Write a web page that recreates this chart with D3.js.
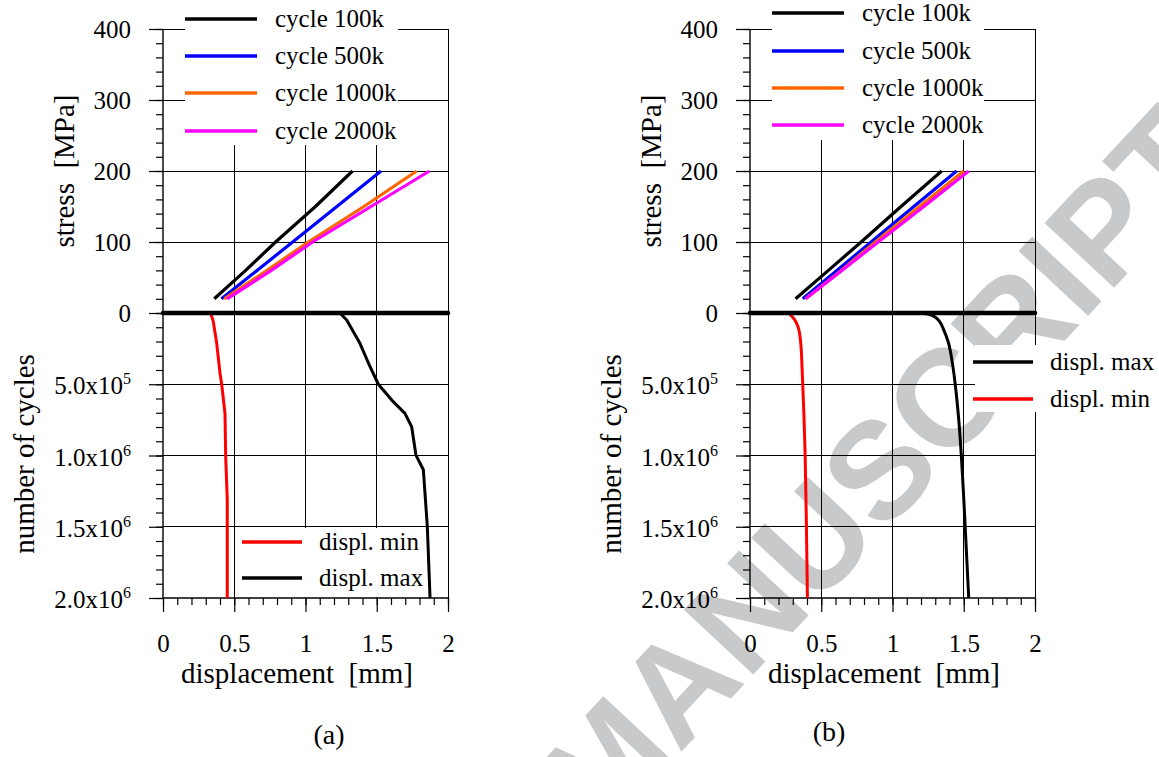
<!DOCTYPE html>
<html>
<head>
<meta charset="utf-8">
<script src="https://cdn.jsdelivr.net/npm/d3@7"></script>
<style>
  body { margin: 0; background: #fff; }
  svg { display: block; }
  svg text { font-family: 'Liberation Serif', 'Times New Roman', Tinos, 'Nimbus Roman', 'DejaVu Serif', serif; fill: #000; }
</style>
</head>
<body>
<svg id="chart" width="1159" height="757"></svg>
<script>
// ---------------- data ----------------
const dispTicks = [0, 0.5, 1, 1.5, 2];
const dispTickLabels = ["0", "0.5", "1", "1.5", "2"];
const stressTicks = [0, 100, 200, 300, 400];
const cycleTicks = [5e5, 1e6, 1.5e6, 2e6];
const cycleTickMant = ["5.0x10", "1.0x10", "1.5x10", "2.0x10"];
const cycleTickExp = ["5", "6", "6", "6"];

const seriesNames = ["cycle 100k", "cycle 500k", "cycle 1000k", "cycle 2000k"];
const stressPoints = [20, 60, 100, 150, 200];

// panel (a): stress-displacement loops
const a_disp100k  = [0.36, 0.58, 0.79, 1.07, 1.33];
const a_disp500k  = [0.41, 0.66, 0.91, 1.22, 1.53];
const a_disp1000k = [0.43, 0.73, 1.02, 1.41, 1.78];
const a_disp2000k = [0.45, 0.76, 1.05, 1.46, 1.87];
// panel (b)
const b_disp100k  = [0.32, 0.55, 0.78, 1.06, 1.345];
const b_disp500k  = [0.37, 0.61, 0.85, 1.15, 1.45];
const b_disp1000k = [0.39, 0.64, 0.88, 1.19, 1.50];
const b_disp2000k = [0.39, 0.645, 0.90, 1.22, 1.535];

// zero line
const zeroDisp = [0, 2];
const zeroVal = [0, 0];

// panel (a): displacement vs number of cycles
const a_cyclesMin = [0, 61e3, 213e3, 423e3, 500e3, 704e3, 1.01e6, 1.31e6, 2.0e6];
const a_displMin  = [0.335, 0.353, 0.377, 0.40, 0.412, 0.435, 0.44, 0.451, 0.451];
const a_cyclesMax = [0, 49e3, 213e3, 377e3, 500e3, 611e3, 704e3, 798e3, 997e3, 1.10e6, 1.50e6, 2.0e6];
const a_displMax  = [1.242, 1.289, 1.382, 1.453, 1.511, 1.605, 1.698, 1.745, 1.775, 1.827, 1.855, 1.874];
// panel (b)
const b_cyclesMin = [0, 20e3, 50e3, 100e3, 200e3, 400e3, 700e3, 1.0e6, 1.5e6, 2.0e6];
const b_displMin  = [0.27, 0.29, 0.315, 0.338, 0.355, 0.366, 0.378, 0.387, 0.396, 0.403];
const b_cyclesMax = [0, 10e3, 30e3, 60e3, 120e3, 200e3, 350e3, 500e3, 750e3, 1.0e6, 1.3e6, 1.6e6, 2.0e6];
const b_displMax  = [1.20, 1.26, 1.30, 1.33, 1.36, 1.39, 1.42, 1.44, 1.465, 1.483, 1.50, 1.515, 1.535];

const cycleColors = ["#000000", "#0000ff", "#ff6600", "#ff00ff"];

// ---------------- drawing ----------------
const SERIF = "'Liberation Serif', 'Times New Roman', Tinos, 'Nimbus Roman', 'DejaVu Serif', serif";
const svg = d3.select("#chart");

// watermark (behind chart)
svg.append("text")
  .attr("transform", "translate(878,468) rotate(-47)")
  .attr("text-anchor", "middle")
  .attr("dy", "0.36em")
  .attr("font-family", "'Liberation Sans', Arial, sans-serif")
  .style("font-family", "'Liberation Sans', Arial, sans-serif")
  .style("font-weight", "bold")
  .style("font-size", "138px")
  .style("fill", "#c8c9ca")
  .text("MANUSCRIPT");

function zip(xs, ys) { return xs.map((v, i) => [v, ys[i]]); }
function serif(sel, size) { return sel.attr("font-family", SERIF).style("font-family", SERIF).style("font-size", size + "px"); }

function drawPanel(p) {
  const g = svg.append("g");
  const L = p.left;
  const x = d3.scaleLinear().domain([0, 2]).range([L, L + 285]);
  const yS = d3.scaleLinear().domain([0, 400]).range([313, 29]);
  const yN = d3.scaleLinear().domain([0, 2e6]).range([313, 598]);

  // grid
  const grid = g.append("g").attr("stroke", "#000").attr("stroke-width", 1).attr("shape-rendering", "crispEdges");
  grid.selectAll("line.v").data([0.5, 1, 1.5]).join("line")
    .attr("x1", d => x(d)).attr("x2", d => x(d)).attr("y1", yS(400)).attr("y2", yN(2e6));
  grid.selectAll("line.hs").data([100, 200, 300, 400]).join("line")
    .attr("x1", x(0)).attr("x2", x(2)).attr("y1", d => yS(d)).attr("y2", d => yS(d));
  grid.selectAll("line.hn").data([5e5, 1e6, 1.5e6]).join("line").attr("class", "hn")
    .attr("x1", x(0)).attr("x2", x(2)).attr("y1", d => yN(d)).attr("y2", d => yN(d));
  grid.append("line").attr("x1", x(2)).attr("x2", x(2)).attr("y1", yS(400)).attr("y2", yN(2e6));

  // legend backgrounds
  g.append("rect").attr("x", p.topBox[0]).attr("y", p.topBox[1]).attr("width", p.topBox[2]).attr("height", p.topBox[3]).attr("fill", "#fff");
  g.append("rect").attr("x", p.botBox[0]).attr("y", p.botBox[1]).attr("width", p.botBox[2]).attr("height", p.botBox[3]).attr("fill", "#fff");

  // axes
  const axG = g.append("g").attr("transform", `translate(${L},0)`);
  const ySmaj = axG.append("g").call(d3.axisLeft(yS).tickValues(stressTicks).tickSize(14).tickPadding(18).tickFormat(d3.format("d")));
  const ySmin = axG.append("g").call(d3.axisLeft(yS).tickValues(d3.range(0, 401, 20)).tickSize(7).tickFormat(""));
  const yNmaj = axG.append("g").call(d3.axisLeft(yN).tickValues(cycleTicks).tickSize(14).tickFormat(""));
  const yNmin = axG.append("g").call(d3.axisLeft(yN).tickValues(d3.range(0, 2e6 + 1, 1e5)).tickSize(7).tickFormat(""));
  [ySmaj, ySmin, yNmaj, yNmin].forEach(a => { a.attr("font-family", SERIF); a.select(".domain").remove(); a.selectAll("line").attr("stroke-width", 1.2); });
  serif(ySmaj.selectAll("text"), 25);
  axG.append("line").attr("x1", 0).attr("x2", 0).attr("y1", yS(400)).attr("y2", yN(2e6)).attr("stroke", "#000").attr("stroke-width", 1.4);

  // cycle tick labels with superscript
  const lab = serif(g.selectAll("text.cyc").data(cycleTicks).join("text").attr("class", "cyc")
    .attr("x", L - 32).attr("y", d => yN(d) + 10).attr("text-anchor", "end"), 25);
  lab.append("tspan").text((d, i) => cycleTickMant[i]);
  lab.append("tspan").attr("dy", -10).style("font-size", "16px").text((d, i) => cycleTickExp[i]);

  const axB = g.append("g").attr("transform", `translate(0,${yN(2e6)})`);
  const xMaj = axB.append("g").call(d3.axisBottom(x).tickValues(dispTicks).tickSize(14).tickPadding(22).tickFormat((d, i) => dispTickLabels[i]));
  const xMin = axB.append("g").call(d3.axisBottom(x).tickValues(d3.range(0, 2.001, 0.1)).tickSize(7).tickFormat(""));
  [xMaj, xMin].forEach(a => { a.attr("font-family", SERIF); a.select(".domain").remove(); a.selectAll("line").attr("stroke-width", 1.2); });
  serif(xMaj.selectAll("text"), 25);
  axB.append("line").attr("x1", x(0)).attr("x2", x(2)).attr("y1", 0).attr("y2", 0).attr("stroke", "#000").attr("stroke-width", 1.4);

  // top data: stress vs displacement
  const lineS = d3.line().x(d => x(d[0])).y(d => yS(d[1]));
  p.cycles.forEach((arr, i) => {
    g.append("path").datum(zip(arr, stressPoints)).attr("d", lineS)
      .attr("fill", "none").attr("stroke", cycleColors[i]).attr("stroke-width", 3.2).attr("stroke-linejoin", "round");
  });

  // bottom data: displacement vs cycles
  const lineN = d3.line().x(d => x(d[0])).y(d => yN(d[1])).curve(p.curve);
  g.append("path").datum(zip(p.displMin, p.cyclesMin)).attr("d", lineN)
    .attr("fill", "none").attr("stroke", "#ff0000").attr("stroke-width", 3).attr("stroke-linejoin", "round");
  g.append("path").datum(zip(p.displMax, p.cyclesMax)).attr("d", lineN)
    .attr("fill", "none").attr("stroke", "#000").attr("stroke-width", 3).attr("stroke-linejoin", "round");

  // thick zero line
  g.append("path").datum(zip(zeroDisp, zeroVal)).attr("d", lineS)
    .attr("fill", "none").attr("stroke", "#000").attr("stroke-width", 4.5).attr("stroke-linecap", "round");

  // top legend
  const tl = g.selectAll("g.tl").data(seriesNames).join("g").attr("class", "tl")
    .attr("transform", (d, i) => `translate(${L + 22},${p.topLegY[i]})`);
  tl.append("line").attr("x1", 0).attr("x2", 72).attr("stroke", (d, i) => cycleColors[i]).attr("stroke-width", 3.5);
  serif(tl.append("text").attr("x", 90).attr("y", 8), 25).text(d => d);

  // bottom legend
  const bl = g.selectAll("g.bl").data(p.botLeg).join("g").attr("class", "bl")
    .attr("transform", d => `translate(${d.x},${d.y})`);
  bl.append("line").attr("x1", 0).attr("x2", 60).attr("stroke", d => d.color).attr("stroke-width", 3.5);
  serif(bl.append("text").attr("x", 77).attr("y", 8), 25).text(d => d.name);

  // axis titles
  serif(g.append("text").attr("transform", `translate(${L - 89},171) rotate(-90)`).attr("text-anchor", "middle"), 29)
    .style("white-space", "pre").text("stress  [MPa]");
  serif(g.append("text").attr("transform", `translate(${L - 129},454) rotate(-90)`).attr("text-anchor", "middle"), 29)
    .text("number of cycles");
  serif(g.append("text").attr("x", L + 134).attr("y", 683).attr("text-anchor", "middle"), 29)
    .style("white-space", "pre").text("displacement  [mm]");
  serif(g.append("text").attr("x", p.capX).attr("y", p.capY).attr("text-anchor", "middle"), 28)
    .text(p.caption);
}

drawPanel({
  left: 163,
  cycles: [a_disp100k, a_disp500k, a_disp1000k, a_disp2000k],
  cyclesMin: a_cyclesMin, displMin: a_displMin, cyclesMax: a_cyclesMax, displMax: a_displMax,
  curve: d3.curveLinear,
  topBox: [185, 0, 213, 145],
  topLegY: [19, 56, 93, 131],
  botBox: [238, 528, 187, 69],
  botLeg: [{name: "displ. min", color: "#ff0000", x: 242, y: 542}, {name: "displ. max", color: "#000", x: 242, y: 578}],
  caption: "(a)", capX: 329, capY: 744
});
drawPanel({
  left: 750,
  cycles: [b_disp100k, b_disp500k, b_disp1000k, b_disp2000k],
  cyclesMin: b_cyclesMin, displMin: b_displMin, cyclesMax: b_cyclesMax, displMax: b_displMax,
  curve: d3.curveMonotoneY,
  topBox: [772, 0, 212, 140],
  topLegY: [13, 51, 88, 125],
  botBox: [975, 345, 184, 67],
  botLeg: [{name: "displ. max", color: "#000", x: 973, y: 362}, {name: "displ. min", color: "#ff0000", x: 973, y: 399}],
  caption: "(b)", capX: 829, capY: 741
});
</script>
</body>
</html>
